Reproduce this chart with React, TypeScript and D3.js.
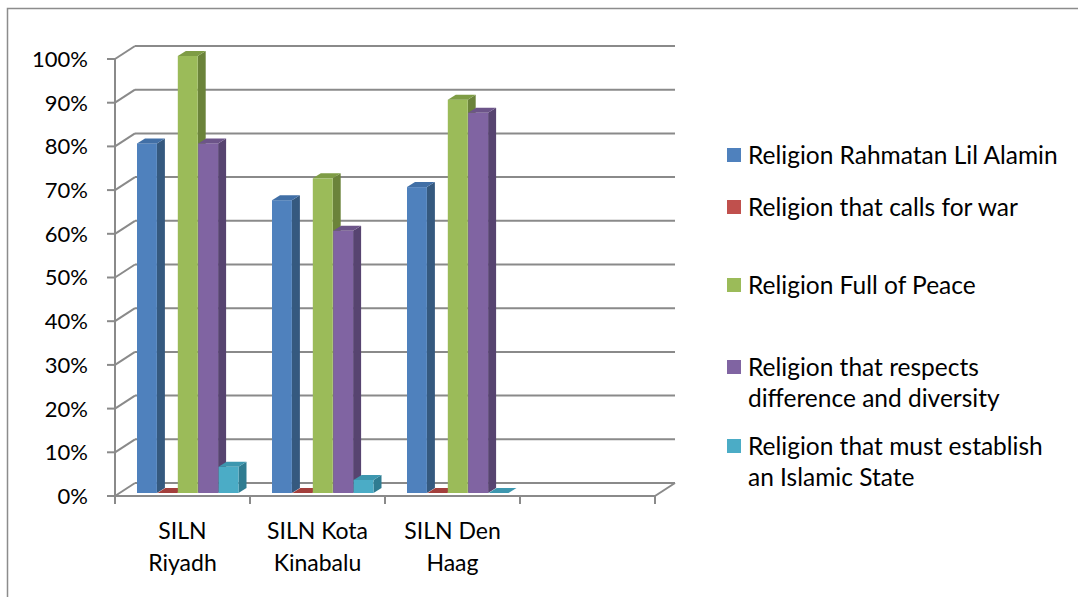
import React from "react";
import * as d3 from "d3";

const categories: string[][] = [["SILN", "Riyadh"], ["SILN Kota", "Kinabalu"], ["SILN Den", "Haag"], ["", ""]];
const categoryKeys = ["Riyadh", "Kota Kinabalu", "Den Haag", "blank"];
const seriesNames = [
  "Religion Rahmatan Lil Alamin",
  "Religion that calls for war",
  "Religion Full of Peace",
  "Religion that respects difference and diversity",
  "Religion that must establish an Islamic State",
];
const legendLines: string[][] = [
  ["Religion Rahmatan Lil Alamin"],
  ["Religion that calls for war"],
  ["Religion Full of Peace"],
  ["Religion that respects", "difference and diversity"],
  ["Religion that must establish", "an Islamic State"],
];
const rahmatan = [0.8, 0.67, 0.7];
const war = [0, 0, 0];
const peace = [1.0, 0.72, 0.9];
const respects = [0.8, 0.6, 0.87];
const islamicState = [0.06, 0.03, 0];
const seriesValues = [rahmatan, war, peace, respects, islamicState];
const yTicks = [0, 0.1, 0.2, 0.3, 0.4, 0.5, 0.6, 0.7, 0.8, 0.9, 1.0];

const front = ["#4F81BD", "#C0504D", "#9BBB59", "#8064A2", "#4BACC6"];
const side = ["#35597F", "#8A3533", "#6B833A", "#574470", "#2F7C91"];
const top = ["#416FA6", "#A33F3C", "#7E9C45", "#6C5489", "#3D97AF"];

const FONT = "Lato, 'Open Sans', sans-serif";
const GRID = "#8a8a8a";

export default function App() {
  const left = 115, right = 655, y0 = 496, y1 = 59;
  const wallDx = 20, wallDy = -13;
  const barDx = 4, barDy = -3;
  const depthX = 8, depthY = -5;

  const x0 = d3.scaleBand<string>().domain(categoryKeys).range([left, right]).padding(0);
  const x1 = d3.scaleBand<string>().domain(seriesNames).range([0, 102]).padding(0);
  const y = d3.scaleLinear().domain([0, 1]).range([y0, y1]);
  const fmt = d3.format(".0%");

  const bars: React.ReactNode[] = [];
  categoryKeys.slice(0, 3).forEach((c, ci) => {
    seriesNames.forEach((s, si) => {
      const v = seriesValues[si][ci];
      const bx = (x0(c) as number) + 18 + barDx + (x1(s) as number);
      const w = x1.bandwidth() - 0.5;
      const base = y(0) + barDy;
      const t = y(v) + barDy;
      const topPts = [[bx, t], [bx + w, t], [bx + w + depthX, t + depthY], [bx + depthX, t + depthY]];
      const sidePts = [[bx + w, t], [bx + w + depthX, t + depthY], [bx + w + depthX, base + depthY], [bx + w, base]];
      bars.push(
        <g key={c + s}>
          {v > 0 && <polygon points={sidePts.map((p) => p.join(",")).join(" ")} fill={side[si]} />}
          {v > 0 && <rect x={bx} y={t} width={w} height={base - t} fill={front[si]} />}
          <polygon points={topPts.map((p) => p.join(",")).join(" ")} fill={top[si]} />
        </g>
      );
    });
  });

  const legendY = [155, 207, 285, 367, 446];

  return (
    <svg width={1078} height={597} style={{ position: "absolute", left: 0, top: 0, background: "#fff" }}>
      <rect x={7.5} y={8.5} width={1200} height={800} fill="none" stroke="#8c8c8c" strokeWidth={1.5} />
      {/* wall gridlines */}
      {yTicks.map((t) => (
        <g key={t}>
          <line x1={left} y1={y(t)} x2={left + wallDx} y2={y(t) + wallDy} stroke={GRID} strokeWidth={2} />
          <line x1={left + wallDx} y1={y(t) + wallDy} x2={right + wallDx} y2={y(t) + wallDy} stroke={GRID} strokeWidth={2} />
          <line x1={left - 8} y1={y(t)} x2={left} y2={y(t)} stroke={GRID} strokeWidth={2} />
          <text x={88} y={y(t)} dy="0.36em" textAnchor="end" fontFamily={FONT} fontSize={22} fill="#000">
            {fmt(t)}
          </text>
        </g>
      ))}
      {/* floor */}
      <line x1={left} y1={y0} x2={right} y2={y0} stroke={GRID} strokeWidth={2} />
      <line x1={right} y1={y0} x2={right + wallDx} y2={y0 + wallDy} stroke={GRID} strokeWidth={2} />
      <line x1={left} y1={y1} x2={left} y2={y0 + 8} stroke={GRID} strokeWidth={2} />
      {categoryKeys.map((c) => (
        <line key={c} x1={(x0(c) as number) + x0.bandwidth()} y1={y0} x2={(x0(c) as number) + x0.bandwidth()} y2={y0 + 8} stroke={GRID} strokeWidth={2} />
      ))}
      {bars}
      {/* category labels */}
      {categories.map((lines, i) => (
        <text key={i} x={(x0(categoryKeys[i]) as number) + x0.bandwidth() / 2} y={531} textAnchor="middle" fontFamily={FONT} fontSize={23} fill="#000">
          {lines.map((l, li) => (
            <tspan key={li} x={(x0(categoryKeys[i]) as number) + x0.bandwidth() / 2} y={531 + li * 32} dy="0.36em">
              {l}
            </tspan>
          ))}
        </text>
      ))}
      {/* legend */}
      {legendLines.map((lines, i) => (
        <g key={i}>
          <rect x={727} y={legendY[i] - 7} width={14} height={14} fill={front[i]} />
          {lines.map((l, li) => (
            <text key={li} x={748} y={legendY[i] + li * 31.5} dy="0.36em" fontFamily={FONT} fontSize={24.5} fill="#000">
              {l}
            </text>
          ))}
        </g>
      ))}
    </svg>
  );
}
